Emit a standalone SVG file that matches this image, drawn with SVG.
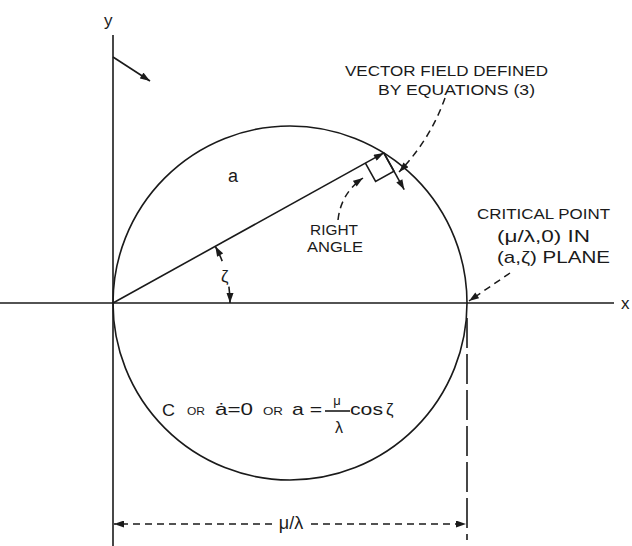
<svg xmlns="http://www.w3.org/2000/svg" width="632" height="546" viewBox="0 0 632 546">
<style>
.ln{fill:none;stroke:#1a1a1a;stroke-width:1.6}
.ds{fill:none;stroke:#1a1a1a;stroke-width:1.5;stroke-dasharray:7 5}
.t{font-family:"Liberation Sans","DejaVu Sans",sans-serif;fill:#1a1a1a}
.lab{font-size:15px}
.sm{font-size:11px}
</style>
<defs>
<marker id="ah" viewBox="0 0 10 7" refX="10" refY="3.5" markerWidth="11" markerHeight="7" markerUnits="userSpaceOnUse" orient="auto-start-reverse">
<path d="M0,0 L10,3.5 L0,7 z" fill="#1a1a1a"/>
</marker>
</defs>
<rect width="632" height="546" fill="#fff"/>
<g id="axes">
<line class="ln" x1="113" y1="35" x2="113" y2="546"/>
<line class="ln" x1="0" y1="303" x2="614" y2="303"/>
<text class="t" x="104" y="26" font-size="17">y</text>
<text class="t" x="621" y="309" font-size="17">x</text>
<line class="ln" x1="113" y1="57" x2="150" y2="81" marker-end="url(#ah)"/>
</g>
<g id="circle">
<circle class="ln" cx="290" cy="303" r="177"/>
</g>
<g id="radius">
<line class="ln" x1="113" y1="303" x2="383.8" y2="152.9" marker-end="url(#ah)"/>
<text class="t" x="228" y="182" font-size="18">a</text>
<polyline class="ln" points="365.4,163.1 375.6,181.5 394.0,171.3 383.8,152.9"/>
<line class="ln" x1="383.8" y1="152.9" x2="404.2" y2="189.6" marker-end="url(#ah)"/>
</g>
<g id="angle">
<path class="ln" d="M222.2,261.1 A117,117 0 0 0 215.3,246.3" marker-end="url(#ah)"/>
<path class="ln" d="M228.9,286.7 A117,117 0 0 1 230,303" marker-end="url(#ah)"/>
<text class="t" x="221" y="282" font-size="17">ζ</text>
</g>
<g id="labels">
<text class="t lab" x="345" y="76" textLength="203" lengthAdjust="spacingAndGlyphs">VECTOR FIELD DEFINED</text>
<text class="t lab" x="378" y="95" textLength="157" lengthAdjust="spacingAndGlyphs">BY EQUATIONS (3)</text>
<text class="t" x="310" y="235" font-size="14" textLength="48" lengthAdjust="spacingAndGlyphs">RIGHT</text>
<text class="t" x="307" y="252" font-size="14" textLength="56" lengthAdjust="spacingAndGlyphs">ANGLE</text>
<text class="t lab" x="477" y="219" textLength="133" lengthAdjust="spacingAndGlyphs">CRITICAL POINT</text>
<text class="t" x="497" y="242" font-size="17" textLength="93" lengthAdjust="spacingAndGlyphs">(μ/λ,0) IN</text>
<text class="t" x="497" y="263" font-size="17" textLength="113" lengthAdjust="spacingAndGlyphs">(a,ζ) PLANE</text>
</g>
<g id="leaders">
<path class="ds" d="M445,98 Q430,140 399,172" marker-end="url(#ah)"/>
<path class="ds" d="M338,220 Q341,193 363,178" marker-end="url(#ah)"/>
<path class="ds" d="M510,273 L469,301" marker-end="url(#ah)"/>
</g>
<g id="formula">
<text class="t" x="162" y="416" font-size="17" textLength="13" lengthAdjust="spacingAndGlyphs">C</text>
<text class="t sm" x="187" y="415" textLength="18" lengthAdjust="spacingAndGlyphs">OR</text>
<text class="t" x="215" y="415" font-size="17" textLength="38" lengthAdjust="spacingAndGlyphs">ȧ=0</text>
<text class="t sm" x="263" y="415" textLength="20" lengthAdjust="spacingAndGlyphs">OR</text>
<text class="t" x="292" y="415" font-size="17" textLength="30" lengthAdjust="spacingAndGlyphs">a =</text>
<text class="t" x="337" y="405" font-size="13" text-anchor="middle">μ</text>
<line class="ln" x1="325" y1="411" x2="350" y2="411" stroke-width="1.2"/>
<text class="t" x="339" y="433" font-size="16" text-anchor="middle">λ</text>
<text class="t" x="350" y="415" font-size="17" textLength="33" lengthAdjust="spacingAndGlyphs">cos</text>
<text class="t" x="386" y="415" font-size="17">ζ</text>
</g>
<g id="dimension">
<line class="ln" x1="467" y1="318" x2="467" y2="540" stroke-dasharray="30 6"/>
<path class="ds" d="M272,524 L114,524" stroke-dasharray="12 6" marker-end="url(#ah)"/>
<path class="ds" d="M311,524 L466,524" stroke-dasharray="12 6" marker-end="url(#ah)"/>
<text class="t" x="291" y="529" font-size="18" text-anchor="middle">μ/λ</text>
</g>
</svg>
